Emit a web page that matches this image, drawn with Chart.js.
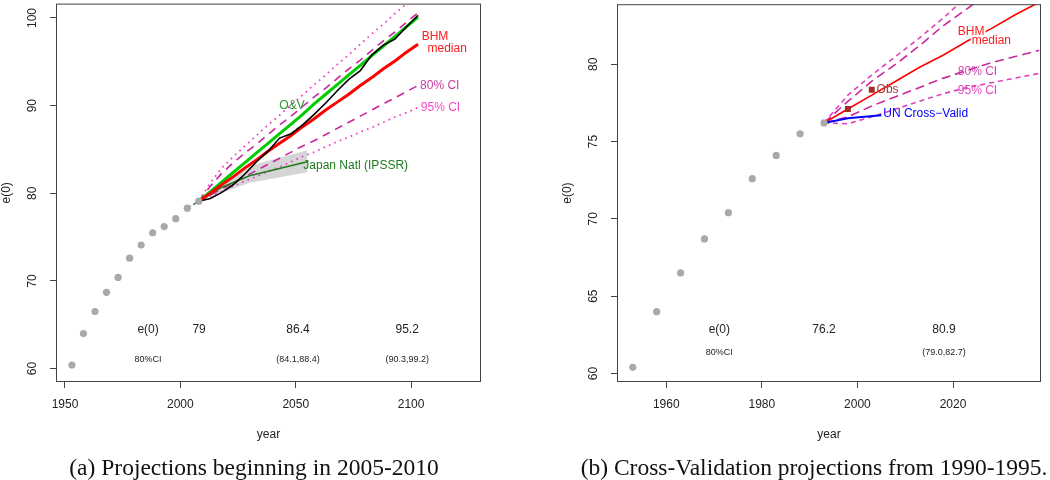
<!DOCTYPE html>
<html>
<head>
<meta charset="utf-8">
<script src="https://cdn.jsdelivr.net/npm/chart.js@4.4.1/dist/chart.umd.min.js"></script>
<style>
  html, body { margin: 0; padding: 0; background: #fff; }
  #wrap { position: relative; width: 1050px; height: 480px; overflow: hidden; }
  .panel { position: absolute; top: 0; width: 525px; height: 480px; }
</style>
</head>
<body>
<div id="wrap">
  <div class="panel" style="left:0"><canvas id="chartA" width="525" height="480"></canvas></div>
  <div class="panel" style="left:525px"><canvas id="chartB" width="525" height="480"></canvas></div>
</div>
<script>
// ---------- panel (a): projections from 2005-2010 ----------
var histYears = [1953, 1958, 1963, 1968, 1973, 1978, 1983, 1988, 1993, 1998, 2003, 2008];
var histE0    = [60.4, 64.0, 66.5, 68.7, 70.4, 72.6, 74.1, 75.5, 76.2, 77.1, 78.3, 79.1];

var projYears = [2008, 2013, 2018, 2023, 2028, 2033, 2038, 2043, 2048, 2053,
                 2058, 2063, 2068, 2073, 2078, 2083, 2088, 2093, 2098, 2103];
var bhmMedian = [79.1, 80.0, 81.0, 81.9, 82.9, 83.8, 84.8, 85.7, 86.6, 87.6,
                 88.5, 89.5, 90.4, 91.3, 92.3, 93.2, 94.2, 95.1, 96.1, 97.0];
var bhm80Lo   = [79.1, 79.8, 80.5, 81.2, 81.9, 82.6, 83.3, 84.0, 84.7, 85.4,
                 86.0, 86.7, 87.4, 88.1, 88.8, 89.5, 90.2, 90.9, 91.6, 92.3];
var bhm80Hi   = [79.1, 80.8, 82.3, 83.5, 84.6, 85.6, 86.7, 87.8, 88.8, 89.9,
                 91.0, 92.0, 93.1, 94.2, 95.2, 96.3, 97.4, 98.4, 99.5, 100.6];
var bhm95Lo   = [79.1, 79.7, 80.2, 80.8, 81.4, 81.9, 82.5, 83.0, 83.6, 84.2,
                 84.7, 85.3, 85.9, 86.4, 87.0, 87.5, 88.1, 88.7, 89.2, 89.8];
var bhm95Hi   = [79.1, 81.2, 82.9, 84.2, 85.4, 86.6, 87.8, 88.9, 90.1, 91.2,
                 92.4, 93.5, 94.7, 95.8, 97.0, 98.2, 99.3, 100.5, 101.6, 102.8];
var ovE0      = [79.1, 80.2, 81.3, 82.4, 83.5, 84.6, 85.7, 86.8, 87.9, 89.0,
                 90.2, 91.3, 92.4, 93.5, 94.6, 95.7, 96.8, 97.9, 99.0, 100.1];
var trajE0    = [79.1, 79.4, 80.1, 81.0, 82.2, 83.6, 84.8, 86.3, 86.8, 87.8,
                 89.0, 90.3, 91.7, 93.0, 94.0, 95.8, 96.9, 97.6, 99.0, 100.3];

var ipssrYears = [2008, 2018, 2030, 2055];
var ipssrE0    = [79.1, 80.7, 82.0, 83.6];
var ipssrLo    = [79.1, 80.1, 81.2, 82.4];
var ipssrHi    = [79.1, 81.1, 83.1, 84.9];
var leadYears  = [2003, 2008];
var leadE0     = [78.3, 79.1];

var xTicksA = [1950, 2000, 2050, 2100];
var yTicksA = [60, 70, 80, 90, 100];

// ---------- panel (b): cross-validation from 1990-1995 ----------
var cvHistYears = [1953, 1958, 1963, 1968, 1973, 1978, 1983, 1988, 1993];
var cvHistE0    = [60.4, 64.0, 66.5, 68.7, 70.4, 72.6, 74.1, 75.5, 76.2];

var cvYears  = [1993, 1998, 2003, 2008, 2013, 2018, 2023, 2028, 2033, 2038];
var cvMedian = [76.2, 77.1, 78.0, 78.9, 79.8, 80.6, 81.5, 82.3, 83.2, 84.0];
var cv80Lo   = [76.2, 76.6, 77.3, 77.9, 78.5, 79.1, 79.6, 80.1, 80.5, 80.9];
var cv80Hi   = [76.2, 77.6, 78.9, 80.0, 81.2, 82.5, 83.6, 84.8, 86.0, 87.1];
var cv95Lo   = [76.2, 76.15, 76.6, 77.1, 77.6, 78.1, 78.5, 78.8, 79.1, 79.4];
var cv95Hi   = [76.2, 78.0, 79.3, 80.5, 81.7, 83.0, 84.4, 85.8, 87.2, 88.6];

var obsYears = [1998, 2003];
var obsE0    = [77.1, 78.35];
var unYears  = [1993, 1998, 2005];
var unE0     = [76.2, 76.5, 76.7];

var xTicksB = [1960, 1980, 2000, 2020];
var yTicksB = [60, 65, 70, 75, 80];

// ---------- helpers ----------
var SANS = '"Liberation Sans", Arial, Helvetica, sans-serif';
var SERIF = '"Liberation Serif", "Times New Roman", serif';
Chart.defaults.font.family = SANS;

function zip(xs, ys) {
    return xs.map(function (x, i) { return { x: x, y: ys[i] }; });
}

function line(data, color, width, dash, order) {
    return {
        data: data, borderColor: color, borderWidth: width, borderDash: dash || [],
        pointRadius: 0, fill: false, order: order, tension: 0
    };
}

function dots(data, order) {
    return {
        data: data, showLine: false, pointRadius: 3.6, pointHoverRadius: 3.6,
        pointBackgroundColor: '#a9a9a9', pointBorderWidth: 0, order: order
    };
}

// draws the box, rotated y labels, titles, annotations and caption
var panelDecor = {
    id: 'panelDecor',
    afterDraw: function (chart) {
        var p = chart.options.plugins.panelDecor;
        var ctx = chart.ctx, a = chart.chartArea;
        var xs = chart.scales.x, ys = chart.scales.y;
        ctx.save();
        ctx.strokeStyle = '#444';
        ctx.lineWidth = 1;
        ctx.strokeRect(a.left + 0.5, a.top + 0.5, a.right - a.left - 1, a.bottom - a.top - 1);

        ctx.fillStyle = '#222';
        ctx.font = '12px ' + SANS;
        ctx.textAlign = 'center';
        ctx.textBaseline = 'middle';
        p.yTicks.forEach(function (v) {
            ctx.save();
            ctx.translate(a.left - 23, ys.getPixelForValue(v));
            ctx.rotate(-Math.PI / 2);
            ctx.fillText(String(v), 0, 0);
            ctx.restore();
        });
        ctx.save();
        ctx.translate(a.left - 49, (a.top + a.bottom) / 2);
        ctx.rotate(-Math.PI / 2);
        ctx.fillText('e(0)', 0, 0);
        ctx.restore();
        ctx.fillText('year', (a.left + a.right) / 2, 435);

        p.notes.forEach(function (n) {
            var px = xs.getPixelForValue(n.x), py = ys.getPixelForValue(n.y);
            ctx.font = (n.size || 12) + 'px ' + SANS;
            ctx.textAlign = n.align || 'center';
            if (n.bg) {
                var w = ctx.measureText(n.text).width;
                var left = n.align === 'left' ? px : px - w / 2;
                ctx.fillStyle = '#fff';
                ctx.fillRect(left - 1, py - 6, w + 2, 12);
            }
            ctx.fillStyle = n.color || '#222';
            ctx.fillText(n.text, px, py);
        });

        ctx.font = '23.5px ' + SERIF;
        ctx.fillStyle = '#111';
        ctx.textAlign = 'center';
        ctx.textBaseline = 'alphabetic';
        ctx.fillText(p.caption, p.captionX, 475);
        ctx.restore();
    }
};

function makePanel(id, cfg) {
    return new Chart(document.getElementById(id), {
        type: 'line',
        data: { datasets: cfg.datasets },
        plugins: [panelDecor],
        options: {
            responsive: false,
            animation: false,
            layout: { padding: { top: 0, right: cfg.padRight, left: 0, bottom: 0 } },
            plugins: {
                legend: { display: false },
                tooltip: { enabled: false },
                panelDecor: cfg.decor
            },
            scales: {
                x: {
                    type: 'linear', min: cfg.xMin, max: cfg.xMax,
                    afterBuildTicks: function (s) { s.ticks = cfg.xTicks.map(function (v) { return { value: v }; }); },
                    afterFit: function (s) { s.height = 98; },
                    border: { display: false },
                    grid: { drawOnChartArea: false, drawTicks: true, tickLength: 6, color: '#444' },
                    ticks: {
                        autoSkip: false, maxRotation: 0, padding: 9, color: '#222',
                        font: { size: 12 },
                        callback: function (v) { return String(v); }
                    }
                },
                y: {
                    type: 'linear', min: cfg.yMin, max: cfg.yMax,
                    afterBuildTicks: function (s) { s.ticks = cfg.yTicks.map(function (v) { return { value: v }; }); },
                    afterFit: function (s) { s.width = cfg.yWidth; },
                    border: { display: false },
                    grid: { drawOnChartArea: false, drawTicks: true, tickLength: 6, color: '#444' },
                    ticks: { display: false }
                }
            }
        }
    });
}

var C80 = '#c8289b', C95 = '#f03cc8';

makePanel('chartA', {
    xMin: 1946.1, xMax: 2130.3, yMin: 58.47, yMax: 101.64,
    xTicks: xTicksA, yTicks: yTicksA, yWidth: 56, padRight: 44,
    datasets: [
        { data: zip(ipssrYears, ipssrLo), borderWidth: 0, pointRadius: 0, fill: false, order: 20 },
        { data: zip(ipssrYears, ipssrHi), borderWidth: 0, pointRadius: 0, fill: '-1',
          backgroundColor: 'rgba(208,208,208,0.9)', order: 19 },
        line(zip(projYears, bhm95Lo), C95, 1.7, [1.7, 4.2], 12),
        line(zip(projYears, bhm95Hi), C95, 1.7, [1.7, 4.2], 11),
        line(zip(projYears, bhm80Lo), C80, 1.6, [8, 6], 10),
        line(zip(projYears, bhm80Hi), C80, 1.6, [8, 6], 9),
        line(zip(ipssrYears, ipssrE0), '#1f7a1f', 1.6, [], 6),
        line(zip(leadYears, leadE0), '#1f7a1f', 1.4, [4, 3], 5),
        line(zip(projYears, ovE0), '#00cc00', 3, [], 4),
        line(zip(projYears, bhmMedian), '#ff0000', 3, [], 3),
        line(zip(projYears, trajE0), '#000000', 1.6, [], 2),
        dots(zip(histYears, histE0), 1)
    ],
    decor: {
        yTicks: yTicksA,
        caption: '(a) Projections beginning in 2005-2010',
        captionX: 254,
        notes: [
            { text: 'BHM', x: 2104.6, y: 97.9, align: 'left', color: '#ff1a1a' },
            { text: 'median', x: 2107.1, y: 96.45, align: 'left', color: '#ff1a1a' },
            { text: '80% CI', x: 2103.9, y: 92.3, align: 'left', color: '#c8389f' },
            { text: '95% CI', x: 2104.2, y: 89.8, align: 'left', color: '#f048c8' },
            { text: 'O&V', x: 2048.4, y: 90.0, color: '#2a9a2a' },
            { text: 'Japan Natl (IPSSR)', x: 2053.3, y: 83.1, align: 'left', color: '#1f7a1f' },
            { text: 'e(0)', x: 1986.0, y: 64.45 },
            { text: '79', x: 2008.1, y: 64.45 },
            { text: '86.4', x: 2051.0, y: 64.45 },
            { text: '95.2', x: 2098.3, y: 64.45 },
            { text: '80%CI', x: 1986.0, y: 61.07, size: 9 },
            { text: '(84.1,88.4)', x: 2051.0, y: 61.07, size: 9 },
            { text: '(90.3,99.2)', x: 2098.3, y: 61.07, size: 9 }
        ]
    }
});

makePanel('chartB', {
    xMin: 1949.7, xMax: 2038.4, yMin: 59.45, yMax: 83.88,
    xTicks: xTicksB, yTicks: yTicksB, yWidth: 92, padRight: 9,
    datasets: [
        line(zip(cvYears, cv95Lo), '#e040c0', 1.6, [5, 4], 12),
        line(zip(cvYears, cv95Hi), '#e040c0', 1.6, [5, 4], 11),
        line(zip(cvYears, cv80Lo), C80, 1.6, [9, 5], 10),
        line(zip(cvYears, cv80Hi), C80, 1.6, [9, 5], 9),
        line(zip(cvYears, cvMedian), '#ff0000', 1.6, [], 4),
        line(zip(unYears, unE0), '#0000ff', 2, [], 3),
        { data: zip(obsYears, obsE0), showLine: false, pointStyle: 'rect', pointRadius: 4.2,
          pointBackgroundColor: '#a52a2a', pointBorderWidth: 0, order: 2 },
        dots(zip(cvHistYears, cvHistE0), 1)
    ],
    decor: {
        yTicks: yTicksB,
        caption: '(b) Cross-Validation projections from 1990-1995.',
        captionX: 289,
        notes: [
            { text: 'BHM', x: 2021.0, y: 82.1, align: 'left', color: '#ff1a1a', bg: true },
            { text: 'median', x: 2023.9, y: 81.5, align: 'left', color: '#ff1a1a', bg: true },
            { text: '80% CI', x: 2021.0, y: 79.5, align: 'left', color: '#d040b0' },
            { text: '95% CI', x: 2021.0, y: 78.3, align: 'left', color: '#e848c0' },
            { text: 'Obs', x: 2004.0, y: 78.38, align: 'left', color: '#a53a3a' },
            { text: 'UN Cross\u2212Valid', x: 2005.4, y: 76.79, align: 'left', color: '#0000ff' },
            { text: 'e(0)', x: 1971.1, y: 62.86 },
            { text: '76.2', x: 1993.0, y: 62.86 },
            { text: '80.9', x: 2018.1, y: 62.86 },
            { text: '80%CI', x: 1971.1, y: 61.37, size: 9 },
            { text: '(79.0,82.7)', x: 2018.1, y: 61.37, size: 9 }
        ]
    }
});
</script>
</body>
</html>
